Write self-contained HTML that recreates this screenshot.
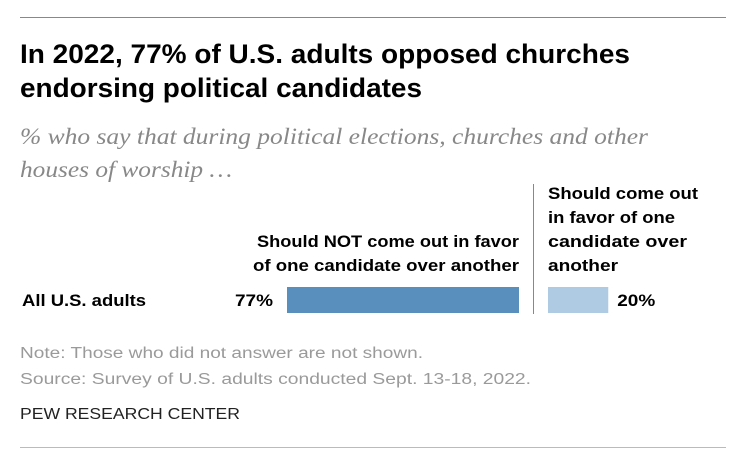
<!DOCTYPE html>
<html><head><meta charset="utf-8"><style>
body{margin:0;background:#fff;}
svg{display:block;}
.t{font-family:"Liberation Sans Narrow","Liberation Sans",sans-serif;font-weight:bold;fill:#000;}
.s{font-family:"Liberation Serif",serif;font-style:italic;fill:#888;}
.n{font-family:"Liberation Sans",sans-serif;fill:#9a9a9a;}
</style></head><body>
<svg id="c" width="742" height="465" viewBox="0 0 742 465">
<line x1="20" y1="17.5" x2="726" y2="17.5" stroke="#888" stroke-width="1"/>
<text class="t" x="20" y="63" font-size="27" textLength="610" lengthAdjust="spacingAndGlyphs">In 2022, 77% of U.S. adults opposed churches</text>
<text class="t" x="20" y="97" font-size="27" textLength="402" lengthAdjust="spacingAndGlyphs">endorsing political candidates</text>
<text class="s" x="20" y="144" font-size="23" textLength="628" lengthAdjust="spacingAndGlyphs">% who say that during political elections, churches and other</text>
<text class="s" x="20" y="177" font-size="23" textLength="212" lengthAdjust="spacingAndGlyphs">houses of worship …</text>
<g id="plot"></g>
<text class="n" x="20" y="358" font-size="15.5" textLength="403" lengthAdjust="spacingAndGlyphs">Note: Those who did not answer are not shown.</text>
<text class="n" x="20" y="384" font-size="15.5" textLength="511" lengthAdjust="spacingAndGlyphs">Source: Survey of U.S. adults conducted Sept. 13-18, 2022.</text>
<text x="20" y="419" font-size="16" font-family="Liberation Sans, sans-serif" fill="#222" textLength="220" lengthAdjust="spacingAndGlyphs">PEW RESEARCH CENTER</text>
<line x1="20" y1="447.5" x2="726" y2="447.5" stroke="#bbb" stroke-width="1"/>
</svg>
<script>
const categories=["All U.S. adults"];
const notFavor=[77];
const favor=[20];
const ns="http://www.w3.org/2000/svg";
const g=document.getElementById('plot');
const px=232/77;
const x0=287, x1=548, rowY=287, barH=26;
function mk(tag,attrs,txt){const e=document.createElementNS(ns,tag);for(const k in attrs)e.setAttribute(k,attrs[k]);if(txt!=null)e.textContent=txt;g.appendChild(e);return e;}
const tf='"Liberation Sans Narrow","Liberation Sans",sans-serif';
function lbl(x,y,t,anchor,len){const e=mk('text',{x:x,y:y,'font-family':tf,'font-weight':'bold','font-size':'17','text-anchor':anchor,textLength:len,lengthAdjust:'spacingAndGlyphs'},t);return e;}
let h;
h=lbl(519,247,"Should NOT come out in favor","end",262);


h=lbl(519,271,"of one candidate over another","end",266);


const fl=[["Should come out",150],["in favor of one",127],["candidate over",139],["another",70]];
fl.forEach((f,i)=>{h=lbl(548,199+i*24,f[0],"start",f[1]);

});
const dv=mk('line',{x1:533.5,y1:184,x2:533.5,y2:314,stroke:'#888','stroke-width':1});


categories.forEach((c,i)=>{
 const y=rowY+i*40;
 let e=lbl(22,y+19,c,"start",124);
 
 
 const w1=notFavor[i]*px;
 e=mk('rect',{x:x0,y:y,width:w1,height:barH,fill:'#588fbd'});
 
 
 e=lbl(x0-14,y+19,notFavor[i]+"%","end",38);
 
 
 const w2=favor[i]*px;
 e=mk('rect',{x:x1,y:y,width:w2,height:barH,fill:'#aecbe3'});
 
 
 e=lbl(x1+w2+9,y+19,favor[i]+"%","start",38);
 
 
});
</script>
</body></html>
